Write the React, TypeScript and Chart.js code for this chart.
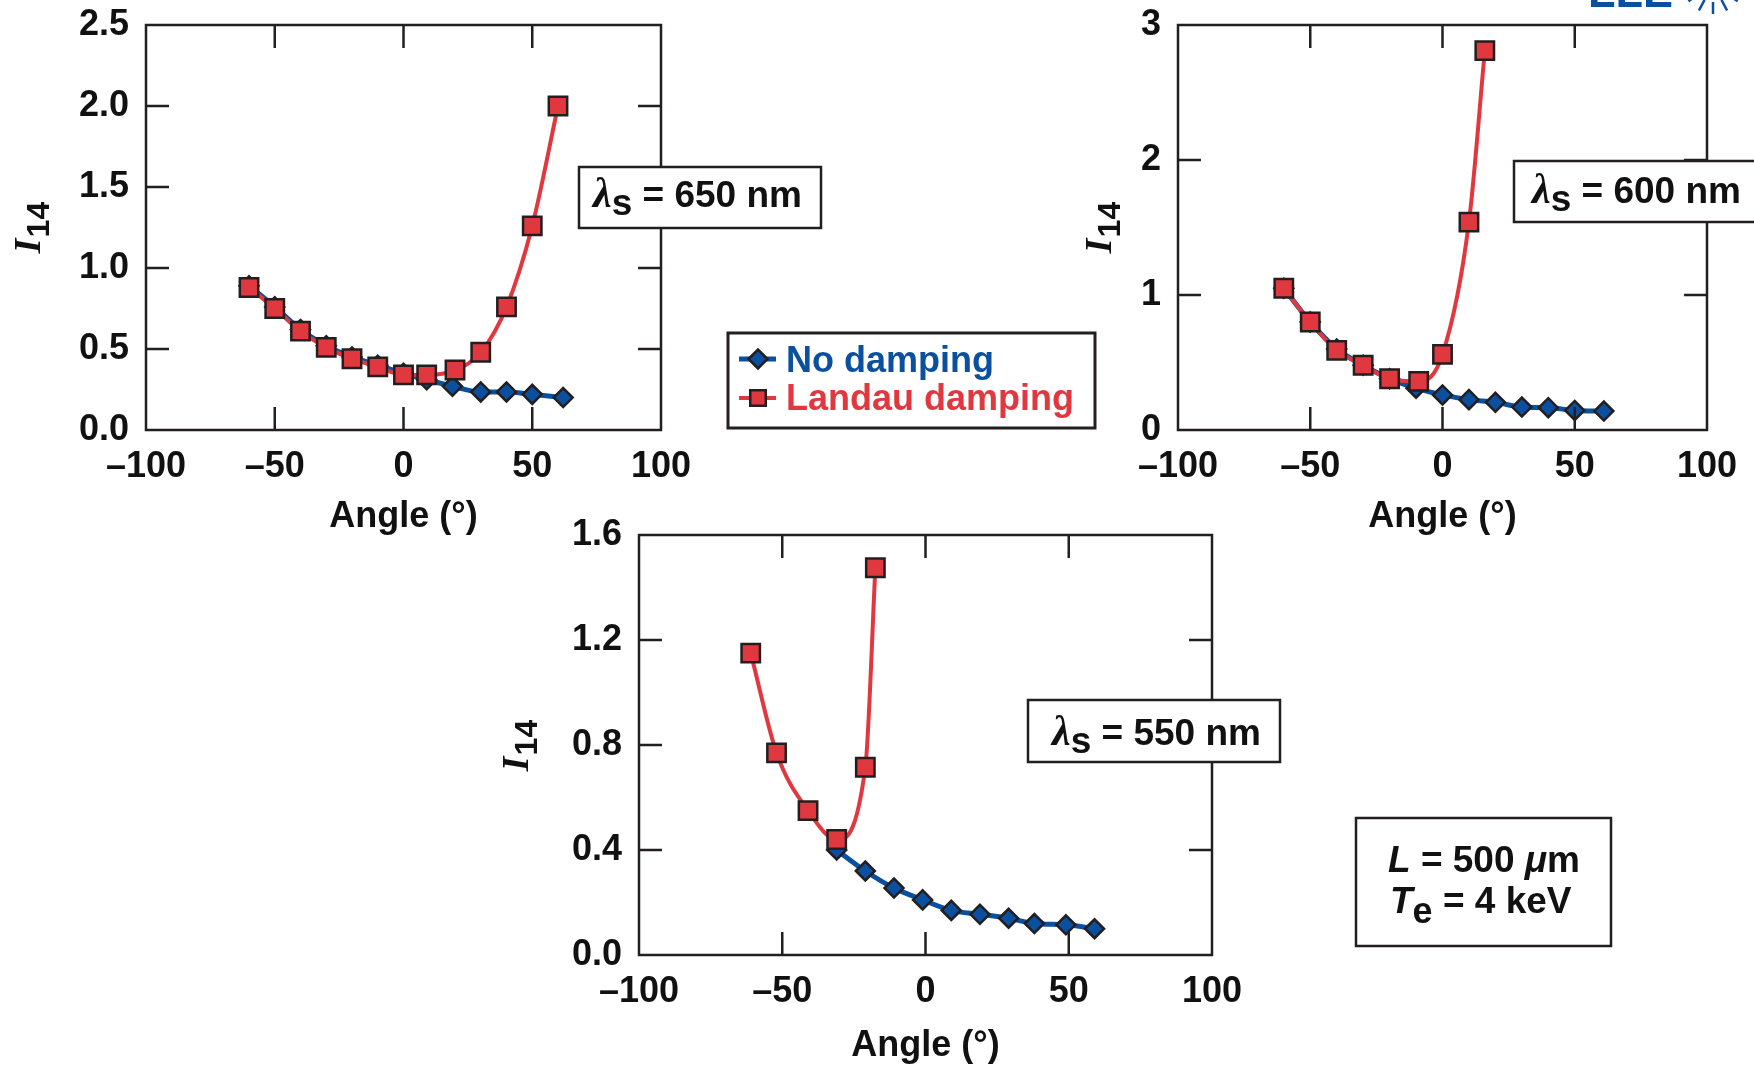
import React, { useEffect, useRef } from 'react';
import { Chart, registerables } from 'chart.js';

Chart.register(...registerables);

// ---------------- data ----------------
const seriesLabels = ['No damping', 'Landau damping'];
const xAxisTitle = 'Angle (°)';
const xTicks = [-100, -50, 0, 50, 100];

// λs = 650 nm
const yTicks650 = [0, 0.5, 1.0, 1.5, 2.0, 2.5];
const angles650NoDamping = [-60, -50, -40, -30, -20, -10, 0, 9, 19, 30, 40, 50, 62];
const i14_650NoDamping = [0.89, 0.76, 0.62, 0.52, 0.45, 0.4, 0.35, 0.31, 0.27, 0.235, 0.235, 0.22, 0.2];
const angles650Landau = [-60, -50, -40, -30, -20, -10, 0, 9, 20, 30, 40, 50, 60];
const i14_650Landau = [0.88, 0.75, 0.61, 0.51, 0.44, 0.39, 0.34, 0.34, 0.37, 0.48, 0.76, 1.26, 2.0];

// λs = 600 nm
const yTicks600 = [0, 1, 2, 3];
const angles600NoDamping = [-60, -50, -40, -30, -20, -10, 0, 10, 20, 30, 40, 50, 61];
const i14_600NoDamping = [1.05, 0.8, 0.6, 0.48, 0.38, 0.31, 0.26, 0.225, 0.205, 0.17, 0.165, 0.145, 0.14];
const angles600Landau = [-60, -50, -40, -30, -20, -9, 0, 10, 16];
const i14_600Landau = [1.05, 0.8, 0.59, 0.48, 0.38, 0.36, 0.56, 1.54, 2.81];

// λs = 550 nm
const yTicks550 = [0, 0.4, 0.8, 1.2, 1.6];
const angles550NoDamping = [-31, -21, -11, -1, 9, 19, 29, 38, 49, 59];
const i14_550NoDamping = [0.4, 0.32, 0.255, 0.21, 0.17, 0.155, 0.14, 0.12, 0.115, 0.1];
const angles550Landau = [-61, -52, -41, -31, -21, -17.5];
const i14_550Landau = [1.15, 0.77, 0.55, 0.44, 0.715, 1.475];

// ---------------- styling ----------------
const INK = '#231f20';
const TEXT = '#111111';
const BLUE = '#0b4f9f';
const RED = '#e1383f';
const SANS = '"Liberation Sans", Arial, Helvetica, sans-serif';
const SERIF = '"Liberation Serif", "DejaVu Serif", serif';
const TICK_LEN = 23;

type Run = { t: string; f: string; dy?: number; dx?: number };

function drawRuns(ctx: CanvasRenderingContext2D, x: number, y: number, runs: Run[], color = TEXT) {
  ctx.save();
  ctx.fillStyle = color;
  ctx.textBaseline = 'alphabetic';
  ctx.textAlign = 'left';
  let cx = x;
  for (const r of runs) {
    ctx.font = r.f;
    cx += r.dx || 0;
    ctx.fillText(r.t, cx, y + (r.dy || 0));
    cx += ctx.measureText(r.t).width;
  }
  ctx.restore();
}

function drawBox(ctx: CanvasRenderingContext2D, x: number, y: number, w: number, h: number, lw = 2.5) {
  ctx.save();
  ctx.fillStyle = '#ffffff';
  ctx.fillRect(x, y, w, h);
  ctx.strokeStyle = INK;
  ctx.lineWidth = lw;
  ctx.strokeRect(x, y, w, h);
  ctx.restore();
}

function drawLambda(ctx: CanvasRenderingContext2D, x: number, y: number, nm: string) {
  drawRuns(ctx, x, y, [
    { t: 'λ', f: `italic bold 42px ${SERIF}` },
    { t: 's', f: `bold 37px ${SANS}`, dy: 8, dx: 0 },
    { t: ' = ', f: `bold 37px ${SANS}` },
    { t: `${nm} nm`, f: `bold 37px ${SANS}` },
  ]);
}

function drawYTitle(ctx: CanvasRenderingContext2D, bx: number, cy: number) {
  ctx.save();
  ctx.translate(bx, cy);
  ctx.rotate(-Math.PI / 2);
  ctx.fillStyle = TEXT;
  ctx.textBaseline = 'alphabetic';
  const f1 = `italic bold 38px ${SERIF}`;
  const f2 = `bold 32px ${SANS}`;
  ctx.font = f1;
  const w1 = ctx.measureText('I').width;
  ctx.font = f2;
  const w2 = ctx.measureText('14').width;
  const start = -(w1 + w2) / 2;
  ctx.font = f1;
  ctx.fillText('I', start, 0);
  ctx.font = f2;
  ctx.fillText('14', start + w1 + 1, 9);
  ctx.restore();
}

function drawMarker(ctx: CanvasRenderingContext2D, style: string, x: number, y: number, r: number, fill: string, lw: number) {
  ctx.save();
  ctx.beginPath();
  if (style === 'rectRot') {
    ctx.moveTo(x - r, y);
    ctx.lineTo(x, y - r);
    ctx.lineTo(x + r, y);
    ctx.lineTo(x, y + r);
    ctx.closePath();
  } else {
    const s = Math.SQRT1_2 * r;
    ctx.rect(x - s, y - s, 2 * s, 2 * s);
  }
  ctx.fillStyle = fill;
  ctx.fill();
  ctx.strokeStyle = INK;
  ctx.lineWidth = lw;
  ctx.stroke();
  ctx.restore();
}

function drawFrame(chart: any) {
  const { ctx, chartArea: a, scales } = chart;
  const xs = scales.x;
  const ys = scales.y;
  ctx.save();
  ctx.strokeStyle = INK;
  ctx.lineWidth = 2.5;
  ctx.beginPath();
  for (const t of xs.ticks) {
    if (t.value <= xs.min + 1e-9 || t.value >= xs.max - 1e-9) continue;
    const px = xs.getPixelForValue(t.value);
    ctx.moveTo(px, a.bottom);
    ctx.lineTo(px, a.bottom - TICK_LEN);
    ctx.moveTo(px, a.top);
    ctx.lineTo(px, a.top + TICK_LEN);
  }
  for (const t of ys.ticks) {
    if (t.value <= ys.min + 1e-9 || t.value >= ys.max - 1e-9) continue;
    const py = ys.getPixelForValue(t.value);
    ctx.moveTo(a.left, py);
    ctx.lineTo(a.left + TICK_LEN, py);
    ctx.moveTo(a.right, py);
    ctx.lineTo(a.right - TICK_LEN, py);
  }
  ctx.stroke();
  ctx.strokeRect(a.left, a.top, a.right - a.left, a.bottom - a.top);
  ctx.restore();
}

function drawLegend(ctx: CanvasRenderingContext2D, chart: any) {
  drawBox(ctx, 728, 333, 367, 95, 3);
  const ds = chart.data.datasets;
  const rows = [
    { d: ds.find((d: any) => d.label === seriesLabels[0]), y: 359, tb: 372 },
    { d: ds.find((d: any) => d.label === seriesLabels[1]), y: 398, tb: 410 },
  ];
  for (const r of rows) {
    const d = r.d;
    ctx.save();
    ctx.strokeStyle = d.borderColor;
    ctx.lineWidth = d.borderWidth;
    ctx.beginPath();
    ctx.moveTo(739, r.y);
    ctx.lineTo(776, r.y);
    ctx.stroke();
    ctx.restore();
    drawMarker(ctx, d.pointStyle, 758, r.y, d.pointStyle === 'rect' ? 11 : 9.5, d.pointBackgroundColor, 2.5);
    drawRuns(ctx, 786, r.tb, [{ t: d.label, f: `bold 36px ${SANS}` }], d.borderColor);
  }
}

function drawLogo(ctx: CanvasRenderingContext2D) {
  drawRuns(ctx, 1588, 7, [{ t: 'LLE', f: `bold 45px ${SANS}` }], BLUE);
  ctx.save();
  ctx.strokeStyle = BLUE;
  ctx.lineWidth = 2.5;
  const cx = 1713;
  const cy = -16;
  for (const ang of [35, 62, 90, 118, 145]) {
    const rad = (ang * Math.PI) / 180;
    ctx.beginPath();
    ctx.moveTo(cx + Math.cos(rad) * 18, cy + Math.sin(rad) * 18);
    ctx.lineTo(cx + Math.cos(rad) * 30, cy + Math.sin(rad) * 30);
    ctx.stroke();
  }
  ctx.restore();
}

function drawParams(ctx: CanvasRenderingContext2D) {
  drawBox(ctx, 1356, 818, 255, 128, 2.5);
  drawRuns(ctx, 1388, 872, [
    { t: 'L', f: `italic bold 37px ${SANS}` },
    { t: ' = 500 ', f: `bold 37px ${SANS}` },
    { t: 'μ', f: `italic bold 37px ${SANS}` },
    { t: 'm', f: `bold 37px ${SANS}` },
  ]);
  drawRuns(ctx, 1390, 913, [
    { t: 'T', f: `italic bold 37px ${SANS}` },
    { t: 'e', f: `bold 36px ${SANS}`, dy: 10 },
    { t: ' = 4 keV', f: `bold 37px ${SANS}` },
  ]);
}

type PanelSpec = {
  left: number;
  top: number;
  width: number;
  height: number;
  padTop: number;
  padRight: number;
  yAxisW: number;
  xAxisH: number;
  titlePadBottom: number;
  yTicks: number[];
  decimals: number;
  noX: number[];
  noY: number[];
  laX: number[];
  laY: number[];
  yTitle: { bx: number; cy: number };
  extras: (ctx: CanvasRenderingContext2D, chart: any) => void;
};

const panels: PanelSpec[] = [
  {
    left: 0, top: 0, width: 1110, height: 545,
    padTop: 25, padRight: 449, yAxisW: 146, xAxisH: 115, titlePadBottom: 9.5,
    yTicks: yTicks650, decimals: 1,
    noX: angles650NoDamping, noY: i14_650NoDamping, laX: angles650Landau, laY: i14_650Landau,
    yTitle: { bx: 40, cy: 228 },
    extras: (ctx, chart) => {
      drawBox(ctx, 579, 167, 242, 61);
      drawLambda(ctx, 593, 207, '650');
      drawLegend(ctx, chart);
    },
  },
  {
    left: 1066, top: 0, width: 688, height: 545,
    padTop: 25, padRight: 47, yAxisW: 112, xAxisH: 115, titlePadBottom: 9.5,
    yTicks: yTicks600, decimals: 0,
    noX: angles600NoDamping, noY: i14_600NoDamping, laX: angles600Landau, laY: i14_600Landau,
    yTitle: { bx: 1111, cy: 228 },
    extras: (ctx) => {
      drawBox(ctx, 1514, 161, 300, 61);
      drawLambda(ctx, 1532, 203, '600');
      drawLogo(ctx);
    },
  },
  {
    left: 470, top: 505, width: 1170, height: 561,
    padTop: 30, padRight: 428, yAxisW: 169, xAxisH: 111, titlePadBottom: 1.5,
    yTicks: yTicks550, decimals: 1,
    noX: angles550NoDamping, noY: i14_550NoDamping, laX: angles550Landau, laY: i14_550Landau,
    yTitle: { bx: 528, cy: 746 },
    extras: (ctx) => {
      drawBox(ctx, 1028, 700, 252, 62);
      drawLambda(ctx, 1052, 745, '550');
      drawParams(ctx);
    },
  },
];

const zip = (xs: number[], ys: number[]) => xs.map((x, i) => ({ x, y: ys[i] }));
const fmtX = (v: number) => (v < 0 ? '\u2013' + Math.abs(v) : String(v));

function makeConfig(p: PanelSpec): any {
  const tickFont = { family: SANS, size: 36, weight: 'bold' as const };
  const yStep = p.yTicks[1] - p.yTicks[0];
  const decor = {
    id: 'decor',
    afterDraw(chart: any) {
      const ctx = chart.ctx as CanvasRenderingContext2D;
      drawFrame(chart);
      ctx.save();
      ctx.translate(-p.left, -p.top);
      drawYTitle(ctx, p.yTitle.bx, p.yTitle.cy);
      p.extras(ctx, chart);
      ctx.restore();
    },
  };
  return {
    type: 'line',
    data: {
      datasets: [
        {
          label: seriesLabels[1],
          data: zip(p.laX, p.laY),
          order: 0,
          borderColor: RED,
          borderWidth: 4,
          pointStyle: 'rect',
          pointRadius: 13,
          pointBackgroundColor: RED,
          pointBorderColor: INK,
          pointBorderWidth: 2.5,
          cubicInterpolationMode: 'monotone',
          fill: false,
        },
        {
          label: seriesLabels[0],
          data: zip(p.noX, p.noY),
          order: 1,
          borderColor: BLUE,
          borderWidth: 5,
          pointStyle: 'rectRot',
          pointRadius: 9.5,
          pointBackgroundColor: BLUE,
          pointBorderColor: INK,
          pointBorderWidth: 2.5,
          cubicInterpolationMode: 'monotone',
          fill: false,
        },
      ],
    },
    options: {
      animation: false,
      responsive: false,
      events: [],
      layout: { padding: { left: 0, top: p.padTop, right: p.padRight, bottom: 0 } },
      plugins: { legend: { display: false }, tooltip: { enabled: false } },
      scales: {
        x: {
          type: 'linear',
          min: xTicks[0],
          max: xTicks[xTicks.length - 1],
          grid: { display: false, drawTicks: true, tickLength: 15 },
          border: { display: false },
          ticks: {
            stepSize: xTicks[1] - xTicks[0],
            font: tickFont,
            color: TEXT,
            padding: 0,
            maxRotation: 0,
            autoSkip: false,
            callback: (v: number) => fmtX(v),
          },
          title: {
            display: true,
            text: xAxisTitle,
            color: TEXT,
            font: { family: SANS, size: 36, weight: 'bold', lineHeight: 1 },
            padding: { top: 0, bottom: p.titlePadBottom },
          },
          afterFit: (s: any) => {
            s.height = p.xAxisH;
          },
        },
        y: {
          type: 'linear',
          min: p.yTicks[0],
          max: p.yTicks[p.yTicks.length - 1],
          grid: { display: false, drawTicks: true, tickLength: 17 },
          border: { display: false },
          ticks: {
            stepSize: yStep,
            font: tickFont,
            color: TEXT,
            padding: 0,
            autoSkip: false,
            callback: (v: number) => Number(v).toFixed(p.decimals),
          },
          afterFit: (s: any) => {
            s.width = p.yAxisW;
          },
        },
      },
    },
    plugins: [decor],
  };
}

function PanelChart({ spec }: { spec: PanelSpec }) {
  const ref = useRef<HTMLCanvasElement>(null);
  useEffect(() => {
    if (!ref.current) return;
    const chart = new Chart(ref.current, makeConfig(spec));
    return () => chart.destroy();
  }, [spec]);
  return (
    <canvas
      ref={ref}
      width={spec.width}
      height={spec.height}
      style={{ position: 'absolute', left: spec.left, top: spec.top, width: spec.width, height: spec.height }}
    />
  );
}

export default function App() {
  return (
    <div
      style={{
        position: 'fixed',
        left: 0,
        top: 0,
        width: 1754,
        height: 1066,
        overflow: 'hidden',
        background: '#ffffff',
      }}
    >
      {panels.map((p, i) => (
        <PanelChart key={i} spec={p} />
      ))}
    </div>
  );
}
